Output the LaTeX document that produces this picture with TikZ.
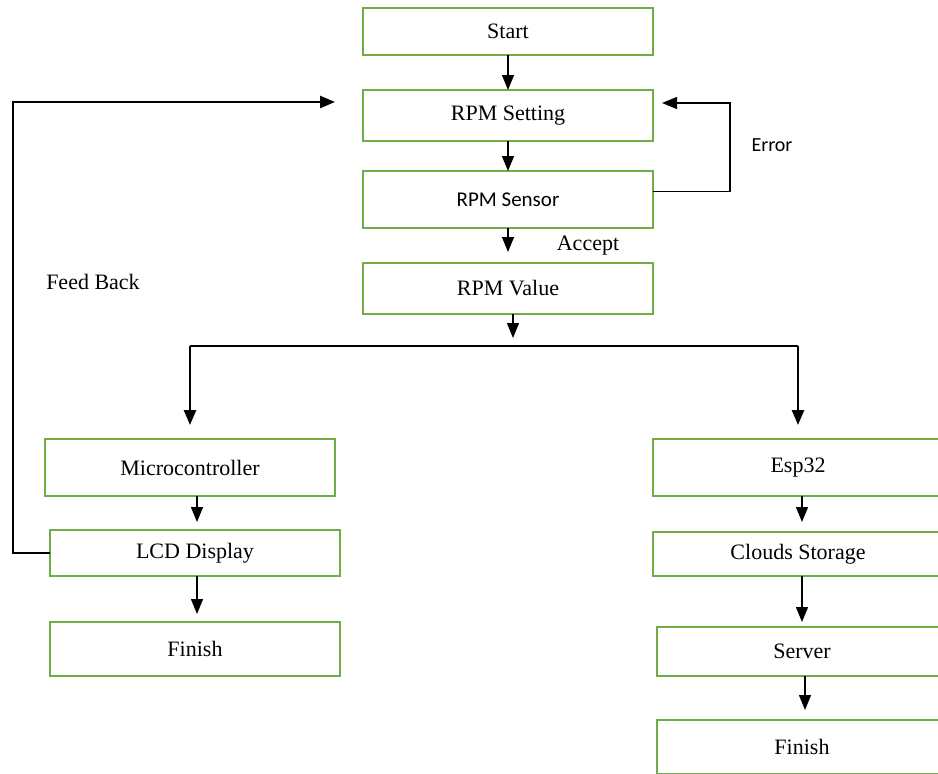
\documentclass[tikz,border=0pt]{standalone}
\usepackage{fontspec}
\setmainfont{Liberation Serif}
\newfontfamily\calibrifont{Carlito}
\usetikzlibrary{arrows.meta, positioning}
\definecolor{boxgreen}{HTML}{70AD47}

\begin{document}
\begin{tikzpicture}[x=1pt, y=1pt, >={Triangle[width=12pt,length=15pt]},
        font=\fontsize{22}{26}\selectfont,
        box/.style={draw=boxgreen, line width=2.8pt, minimum width=290pt, inner sep=0pt, outer sep=0pt},
        arrline/.style={line width=1.3pt},
        busline/.style={line width=2.6pt}]
        \useasboundingbox (0,0) rectangle (938,-774);
        % main column
        \node[box, minimum height=47pt] (start) at (508,-31.5) {Start};
        \node[box, minimum height=51pt, below=35pt of start] (set) {RPM Setting};
        \node[box, minimum height=57pt, below=30pt of set, font=\calibrifont\fontsize{21}{25}\selectfont] (sensor) {RPM Sensor};
        \node[box, minimum height=51pt, below=35pt of sensor] (value) {RPM Value};
        \draw[arrline, ->] (start) -- (set);
        \draw[arrline, ->] (set) -- (sensor);
        \draw[arrline, ->, shorten >=11pt] (sensor) -- (value);
        \node[font=\calibrifont\fontsize{20}{24}\selectfont] (err) at (772,-145) {Error};
        \node (acc) at (588,-246) {Accept};
        \coordinate (errend) at (662,-103);
        \draw[arrline, ->] ([yshift=8pt]sensor.east) -- ++(77,0) |- (errend);
        % split
        \coordinate (split) at (513,-338);
        \coordinate (barL) at (190,-346);
        \coordinate (barR) at (798,-346);
        \draw[arrline, ->] (value.south -| split) -- (split);
        \draw[busline] (barL) -- (barR);
        % left branch
        \node[box, minimum height=57pt] (micro) at (190,-467.5) {Microcontroller};
        \node[box, minimum height=46pt, below=34pt of micro, xshift=5pt] (lcd) {LCD Display};
        \node[box, minimum height=54pt, below=46pt of lcd] (finL) {Finish};
        \draw[busline, ->, shorten >=14pt] (barL) -- (micro.north);
        \draw[arrline, ->, shorten >=8pt] ([xshift=7pt]micro.south) -- ([xshift=2pt]lcd.north);
        \draw[arrline, ->, shorten >=8pt] ([xshift=2pt]lcd.south) -- ([xshift=2pt]finL.north);
        % right branch
        \node[box, minimum height=57pt] (esp) at (798,-467.5) {Esp32};
        \node[box, minimum height=44pt, below=36pt of esp] (cloud) {Clouds Storage};
        \node[box, minimum height=49pt, below=51pt of cloud, xshift=4pt] (server) {Server};
        \node[box, minimum height=54pt, below=44pt of server] (finR) {Finish};
        \draw[busline, ->, shorten >=14pt] (barR) -- (esp.north);
        \draw[arrline, ->, shorten >=10pt] ([xshift=4pt]esp.south) -- ([xshift=4pt]cloud.north);
        \draw[arrline, ->, shorten >=5pt] ([xshift=4pt]cloud.south) -- (server.north);
        \draw[arrline, ->, shorten >=10pt] ([xshift=3pt]server.south) -- ([xshift=3pt]finR.north);
        % feed back
        \node (fb) at (93,-282) {Feed Back};
        \coordinate (fbend) at (335,-102);
        \draw[busline, ->] (lcd.west) -- ++(-37,0) |- (fbend);
    \end{tikzpicture}
\end{document}
